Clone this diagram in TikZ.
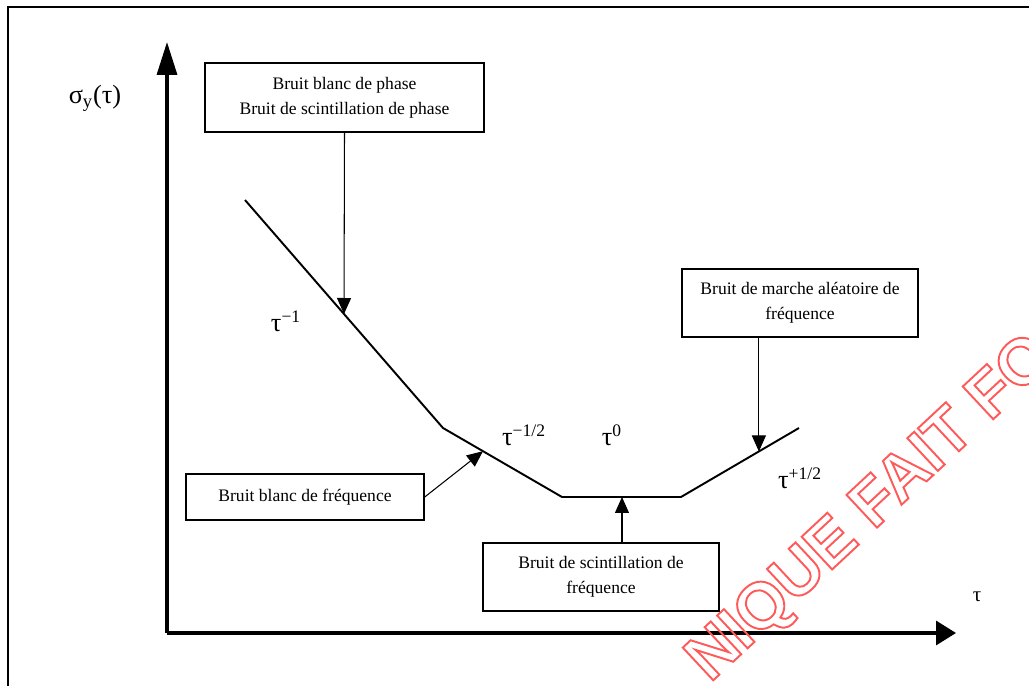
\documentclass[tikz,border=0pt]{standalone}
\usepackage{fontspec}
\setmainfont{Liberation Serif}
\newfontfamily\stampfont{Liberation Sans}
\usetikzlibrary{calc,arrows.meta}
\definecolor{stamp}{RGB}{255,90,90}
\newcommand*{\expo}[1]{\textsuperscript{\fontsize{10}{12}\selectfont #1}}
\tikzset{%
  noisebox/.style={draw, rectangle, line width=0.85pt, align=center,
    inner sep=0pt, font=\fontsize{10}{14}\selectfont},% noise type box
  power/.style={font=\fontsize{15}{18}\selectfont},% slope of each part
  pointer/.style={line width=0.6pt, -{Triangle[length=0.32cm,width=0.28cm]}},
  asymptote/.style={line width=1.1pt, line join=miter},
  axisline/.style={line width=1.9pt}
}
\begin{document}
\begin{tikzpicture}[x=0.02cm, y=-0.02cm]
\useasboundingbox (0,0) rectangle (1029,686);
\clip (0,0) rectangle (1029,686);
\draw[line width=1.1pt] (8,700) -- (8,7) -- (1040,7);

% axes
\coordinate (o) at (167,633);
\draw[axisline, -{Triangle[length=0.66cm,width=0.4cm]}] (o) -- (167,42);
\draw[axisline, -{Triangle[length=0.4cm,width=0.48cm]}] (o) -- (956,633);
\node[power] (sigma) at (95,98) {σ\textsubscript{y}(τ)};
\node[font=\fontsize{12}{14}\selectfont] (tau) at (977,597) {τ};

% sigma_y(tau) asymptotes
\coordinate (p0) at (245,200);
\coordinate (p1) at (443,428);
\coordinate (p2) at (562,497);
\coordinate (p3) at (681,497);
\coordinate (p4) at (799,428);
\draw[asymptote] (p0) -- (p1) -- (p2) -- (p3) -- (p4);

\node[power] (s1) at (286,321) {τ\expo{−1}};
\node[power] (s2) at (524,435) {τ\expo{−1/2}};
\node[power] (s3) at (612,435) {τ\expo{0}};
\node[power] (s4) at (800,478) {τ\expo{+1/2}};

% noise boxes
\node[noisebox, minimum width=5.58cm, minimum height=1.38cm] (phase) at (344.5,97.5)
  {Bruit blanc de phase\\Bruit de scintillation de phase};
\node[noisebox, minimum width=4.76cm, minimum height=0.92cm] (white) at (305,497)
  {Bruit blanc de fréquence};
\node[noisebox, minimum width=4.72cm, minimum height=1.36cm] (flicker) at (601,577)
  {Bruit de scintillation de\\fréquence};
\node[noisebox, minimum width=4.72cm, minimum height=1.36cm] (walk) at (800,303)
  {Bruit de marche aléatoire de\\fréquence};

\coordinate (t1) at ($(p0)!0.5!(p1)$);
\coordinate (t2) at ($(p1)!0.336!(p2)$);
\coordinate (t3) at ($(p2)!0.504!(p3)$);
\coordinate (t4) at ($(p3)!0.66!(p4)$);
\draw[pointer] (phase.south) -- (t1);
\draw[pointer] (white.east) -- (t2);
\draw[pointer] (flicker.north -| t3) -- (t3);
\draw[pointer] (walk.south -| t4) -- (t4);

% watermark
\node[rotate=43, text=stamp, font=\stampfont\bfseries\fontsize{37}{40}\selectfont] (mark) at (872,510)
  {\special{pdf:literal direct 1 Tr 1.1 w}NIQUE FAIT FO\special{pdf:literal direct 0 Tr}};
\end{tikzpicture}
\end{document}
